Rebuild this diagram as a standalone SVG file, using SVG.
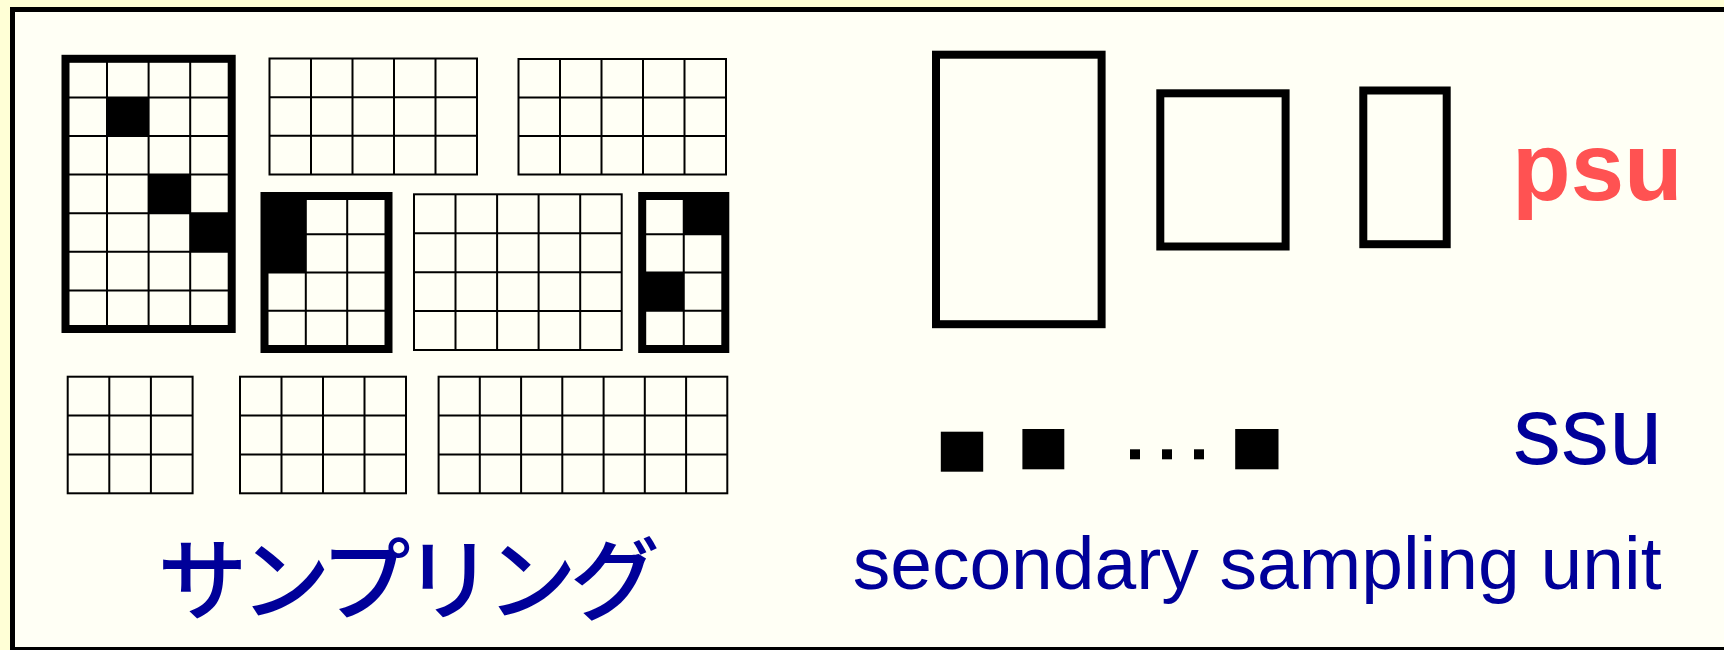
<svg xmlns="http://www.w3.org/2000/svg" width="1724" height="650" viewBox="0 0 1724 650">
<style>
.thin{fill:none;stroke:#000;stroke-width:2}
.thick{fill:none;stroke:#000;stroke-width:8}
.blk{fill:#000}
.blue{fill:#000099;font-family:"Liberation Sans",Arial,sans-serif}
.jp{fill:#000099;font-family:"Noto Sans CJK JP","Noto Sans CJK SC",sans-serif;font-weight:500}
.psu{fill:#FF5252;font-family:"Liberation Sans",Arial,sans-serif;font-weight:bold}
</style>
<rect x="0" y="0" width="1724" height="650" fill="#FFFFD6"/>
<rect x="12.5" y="9.5" width="1720" height="640" fill="#FFFFF5" stroke="#000" stroke-width="5"/>
<g id="connectors"/>
<g id="gridA">
<rect class="blk" x="107" y="97.4" width="41.6" height="38.6"/>
<rect class="blk" x="148.6" y="174.6" width="41.6" height="38.6"/>
<rect class="blk" x="190.2" y="213.2" width="41.5" height="38.6"/>
<path class="thin" d="M107,58.8V329M148.6,58.8V329M190.2,58.8V329M65.5,97.4H231.7M65.5,136H231.7M65.5,174.6H231.7M65.5,213.2H231.7M65.5,251.8H231.7M65.5,290.4H231.7"/>
<rect class="thick" x="65.5" y="58.8" width="166.2" height="270.2"/>
</g>
<g id="gridB">
<path class="thin" d="M311,58.5V174.5M352.5,58.5V174.5M394,58.5V174.5M435.5,58.5V174.5M269.5,97.2H477M269.5,135.8H477"/>
<rect class="thin" x="269.5" y="58.5" width="207.5" height="116"/>
</g>
<g id="gridC">
<path class="thin" d="M560,59V174.5M601.5,59V174.5M643,59V174.5M684.5,59V174.5M518.5,97.5H726M518.5,136H726"/>
<rect class="thin" x="518.5" y="59" width="207.5" height="115.5"/>
</g>
<g id="gridD">
<rect class="blk" x="264.5" y="196" width="41.3" height="76.5"/>
<path class="thin" d="M305.8,196V349M347.2,196V349M264.5,234.25H388.5M264.5,272.5H388.5M264.5,310.75H388.5"/>
<rect class="thick" x="264.5" y="196" width="124" height="153"/>
</g>
<g id="gridE">
<path class="thin" d="M455.5,194.3V350M497.1,194.3V350M538.6,194.3V350M580.2,194.3V350M414,233.2H621.7M414,272.2H621.7M414,311.1H621.7"/>
<rect class="thin" x="414" y="194.3" width="207.7" height="155.7"/>
</g>
<g id="gridF">
<rect class="blk" x="683.75" y="196" width="41.55" height="38.25"/>
<rect class="blk" x="642.2" y="272.5" width="41.55" height="38.25"/>
<path class="thin" d="M683.75,196V349M642.2,234.25H725.3M642.2,272.5H725.3M642.2,310.75H725.3"/>
<rect class="thick" x="642.2" y="196" width="83.1" height="153"/>
</g>
<g id="gridG">
<path class="thin" d="M109.3,376.7V493.3M150.9,376.7V493.3M67.7,415.6H192.6M67.7,454.4H192.6"/>
<rect class="thin" x="67.7" y="376.7" width="124.9" height="116.6"/>
</g>
<g id="gridH">
<path class="thin" d="M281.5,376.7V493.3M323,376.7V493.3M364.5,376.7V493.3M240,415.6H406M240,454.4H406"/>
<rect class="thin" x="240" y="376.7" width="166" height="116.6"/>
</g>
<g id="gridI">
<path class="thin" d="M479.8,376.7V493.3M521.1,376.7V493.3M562.3,376.7V493.3M603.6,376.7V493.3M644.8,376.7V493.3M686.1,376.7V493.3M438.6,415.6H727.3M438.6,454.4H727.3"/>
<rect class="thin" x="438.6" y="376.7" width="288.7" height="116.6"/>
</g>
<g id="label-sampling">
<text class="jp" x="157.5" y="613" font-size="90" letter-spacing="-7">サンプリング</text>
</g>
<g id="psu-shapes">
<rect class="thick" x="936" y="54.7" width="165.6" height="269.5"/>
<rect class="thick" x="1160.3" y="93.3" width="125.3" height="153.2"/>
<rect class="thick" x="1363.3" y="90.5" width="83.4" height="153.7"/>
</g>
<g id="label-psu">
<text class="psu" x="1512" y="200" font-size="96">psu</text>
</g>
<g id="ssu-shapes">
<rect class="blk" x="940.8" y="431.7" width="42.4" height="40"/>
<rect class="blk" x="1022.4" y="429" width="41.9" height="40.3"/>
<rect class="blk" x="1130" y="449.3" width="10" height="10"/>
<rect class="blk" x="1162" y="449.3" width="10" height="10"/>
<rect class="blk" x="1194" y="449.3" width="10" height="10"/>
<rect class="blk" x="1235.2" y="429" width="43.3" height="40.3"/>
</g>
<g id="label-ssu">
<text class="blue" x="1513" y="464" font-size="96">ssu</text>
</g>
<g id="label-secondary">
<text class="blue" x="852.7" y="589.3" font-size="75">secondary sampling unit</text>
</g>
</svg>
